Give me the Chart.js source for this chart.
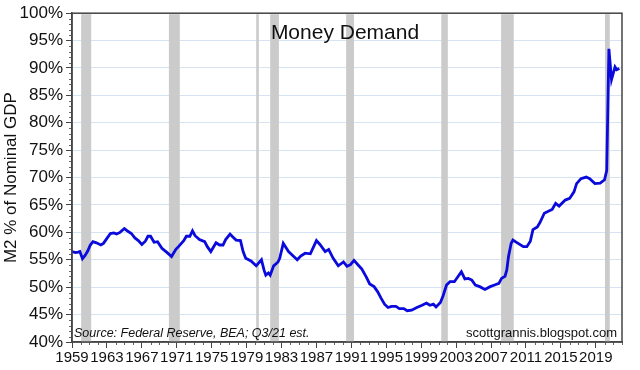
<!DOCTYPE html>
<html>
<head>
<meta charset="utf-8">
<script src="https://cdn.jsdelivr.net/npm/chart.js@4.4.0/dist/chart.umd.min.js"></script>
<style>
  html, body { margin: 0; padding: 0; background: #fff; }
  #wrap { width: 640px; height: 370px; }
</style>
</head>
<body>
<div id="wrap"><canvas id="moneyChart" width="640" height="370"></canvas></div>
<script>
// M2 as % of nominal GDP (x = year position on the axis)
const years = [
  1959.0, 1959.4, 1959.7, 1959.9, 1960.2, 1960.5, 1960.8, 1961.1, 1961.4, 1961.8,
  1962.3, 1962.6, 1963.0, 1963.4, 1963.8, 1964.1, 1964.5, 1965.0, 1965.4, 1965.8,
  1966.2, 1966.6, 1967.0, 1967.4, 1967.7, 1968.0, 1968.4, 1968.8, 1969.3, 1969.9,
  1970.4, 1970.9, 1971.2, 1971.8, 1972.1, 1972.5, 1972.8, 1973.1, 1973.6, 1974.2,
  1974.5, 1974.9, 1975.5, 1975.9, 1976.3, 1976.6, 1977.1, 1977.4, 1977.8, 1978.3,
  1978.6, 1978.9, 1979.5, 1980.1, 1980.7, 1981.0, 1981.2, 1981.5, 1981.7, 1982.1,
  1982.6, 1982.8, 1983.2, 1983.8, 1984.4, 1984.8, 1985.2, 1985.7, 1986.3, 1987.0,
  1987.4, 1988.0, 1988.4, 1988.9, 1989.5, 1990.1, 1990.5, 1990.9, 1991.3, 1991.8,
  1992.2, 1992.7, 1993.1, 1993.6, 1994.0, 1994.4, 1994.8, 1995.2, 1995.6, 1996.1,
  1996.5, 1997.0, 1997.4, 1997.9, 1998.5, 1999.1, 1999.6, 2000.0, 2000.4, 2000.7,
  2001.2, 2001.5, 2001.9, 2002.3, 2002.8, 2003.2, 2003.6, 2004.0, 2004.4, 2004.8,
  2005.2, 2005.7, 2006.3, 2006.9, 2007.4, 2007.9, 2008.2, 2008.6, 2008.8, 2009.0,
  2009.3, 2009.5, 2010.1, 2010.7, 2011.1, 2011.5, 2011.8, 2012.3, 2012.6, 2013.1,
  2013.5, 2014.0, 2014.4, 2014.8, 2015.5, 2016.0, 2016.5, 2016.8, 2017.3, 2017.9,
  2018.3, 2018.9, 2019.5, 2020.0, 2020.25, 2020.5, 2020.8, 2021.2, 2021.4, 2021.7
];
const m2Pct = [
  56.5, 56.3, 56.4, 56.5, 55.2, 55.8, 56.6, 57.7, 58.3, 58.1,
  57.7, 58.0, 58.9, 59.8, 59.9, 59.7, 60.0, 60.7, 60.2, 59.8,
  59.0, 58.5, 57.8, 58.4, 59.3, 59.3, 58.2, 58.3, 57.1, 56.3,
  55.6, 56.9, 57.4, 58.5, 59.3, 59.3, 60.3, 59.4, 58.7, 58.3,
  57.4, 56.5, 58.1, 57.7, 57.7, 58.7, 59.7, 59.2, 58.6, 58.5,
  56.5, 55.3, 54.8, 53.9, 55.0, 53.1, 52.2, 52.6, 52.2, 53.9,
  54.6, 55.3, 58.0, 56.5, 55.6, 55.0, 55.7, 56.2, 56.1, 58.5,
  57.8, 56.5, 56.9, 55.3, 53.9, 54.6, 53.8, 54.1, 54.9, 54.0,
  53.3, 51.9, 50.6, 50.1, 49.2, 48.0, 46.9, 46.3, 46.5, 46.5,
  46.1, 46.1, 45.7, 45.8, 46.3, 46.7, 47.1, 46.7, 46.9, 46.4,
  47.2, 48.4, 50.4, 51.0, 51.0, 51.9, 52.8, 51.5, 51.6, 51.3,
  50.4, 50.1, 49.6, 50.1, 50.4, 50.7, 51.6, 52.0, 53.1, 55.6,
  58.0, 58.6, 58.0, 57.4, 57.4, 58.4, 60.5, 61.0, 61.8, 63.5,
  63.8, 64.2, 65.3, 64.8, 65.9, 66.2, 67.4, 68.9, 69.8, 70.1,
  69.8, 68.9, 69.0, 69.6, 71.3, 93.5, 87.9, 90.2, 89.7, 89.9
];

// recession shading (start / end on the year axis)
const recStart = [1960.05, 1970.1, 1980.1, 1981.7, 1990.4, 2001.3, 2008.15, 2020.05];
const recEnd = [1961.2, 1971.35, 1980.4, 1982.7, 1991.3, 2002.05, 2009.6, 2020.6];

const yearTicks = [1959, 1963, 1967, 1971, 1975, 1979, 1983, 1987, 1991, 1995, 1999, 2003, 2007, 2011, 2015, 2019];
const pctTicks = [40, 45, 50, 55, 60, 65, 70, 75, 80, 85, 90, 95, 100];

const FONT = "'Liberation Sans', Arial, sans-serif";

const recessionBands = {
    id: "recessionBands",
    beforeDatasetsDraw(chart) {
        const { ctx, chartArea, scales } = chart;
        ctx.save();
        ctx.fillStyle = "#cbcbcb";
        recStart.forEach((start, i) => {
            const x0 = scales.x.getPixelForValue(start);
            const x1 = scales.x.getPixelForValue(recEnd[i]);
            ctx.fillRect(x0, chartArea.top + 1, x1 - x0, chartArea.bottom - chartArea.top - 1);
        });
        ctx.restore();
    }
};

const frameAndText = {
    id: "frameAndText",
    afterDraw(chart) {
        const { ctx, chartArea, scales } = chart;
        ctx.save();
        // minor ticks
        ctx.strokeStyle = "#666";
        ctx.lineWidth = 1;
        ctx.beginPath();
        for (let v = 40; v <= 100; v++) {
            if (v % 5 === 0) continue;
            const y = Math.round(scales.y.getPixelForValue(v)) + 0.5;
            ctx.moveTo(chartArea.left - 3, y);
            ctx.lineTo(chartArea.left, y);
        }
        for (let yr = 1959; yr <= 2022; yr++) {
            if ((yr - 1959) % 4 === 0) continue;
            const x = Math.round(scales.x.getPixelForValue(yr)) + 0.5;
            ctx.moveTo(x, chartArea.bottom);
            ctx.lineTo(x, chartArea.bottom + 3);
        }
        ctx.stroke();

        // frame
        ctx.strokeStyle = "#444";
        ctx.lineWidth = 1.5;
        ctx.strokeRect(chartArea.left, chartArea.top, chartArea.right - chartArea.left, chartArea.bottom - chartArea.top);

        // title and notes
        ctx.fillStyle = "#111";
        ctx.textAlign = "center";
        ctx.textBaseline = "alphabetic";
        ctx.font = "21px " + FONT;
        ctx.fillText("Money Demand", 345, 39);

        ctx.textAlign = "left";
        ctx.font = "italic 12.5px " + FONT;
        ctx.fillText("Source: Federal Reserve, BEA; Q3/21 est.", 74, 337);

        ctx.textAlign = "right";
        ctx.font = "13px " + FONT;
        ctx.fillText("scottgrannis.blogspot.com", 617, 337);
        ctx.restore();
    }
};

new Chart(document.getElementById("moneyChart"), {
    type: "line",
    data: {
        datasets: [{
            data: years.map((yr, i) => ({ x: yr, y: m2Pct[i] })),
            borderColor: "#0a0adc",
            borderWidth: 2.8,
            pointRadius: 0,
            tension: 0,
            fill: false
        }]
    },
    options: {
        responsive: false,
        animation: false,
        events: [],
        layout: { padding: { top: 13, right: 18, bottom: 0, left: 0 } },
        plugins: {
            legend: { display: false },
            tooltip: { enabled: false }
        },
        scales: {
            x: {
                type: "linear",
                min: 1959,
                max: 2022,
                afterBuildTicks: (scale) => { scale.ticks = yearTicks.map((v) => ({ value: v })); },
                afterFit: (scale) => { scale.height = 28; },
                grid: { drawOnChartArea: false, tickLength: 6, color: "#444", tickWidth: 1 },
                border: { color: "#444", width: 1.5 },
                ticks: {
                    autoSkip: false,
                    maxRotation: 0,
                    padding: 1,
                    color: "#111",
                    font: { family: FONT, size: 15 },
                    callback: (v) => String(v)
                }
            },
            y: {
                min: 40,
                max: 100,
                afterBuildTicks: (scale) => { scale.ticks = pctTicks.map((v) => ({ value: v })); },
                afterFit: (scale) => { scale.width = 72; },
                grid: {
                    color: (c) => (c.tick && (c.tick.value === 40 || c.tick.value === 100)) ? "rgba(0,0,0,0)" : "#d6e3f3",
                    tickColor: "#444",
                    tickLength: 6,
                    lineWidth: 1
                },
                border: { color: "#444", width: 1.5 },
                ticks: {
                    padding: 3,
                    color: "#111",
                    font: { family: FONT, size: 17 },
                    callback: (v) => v + "%"
                },
                title: {
                    display: true,
                    text: "M2 % of Nominal GDP",
                    color: "#111",
                    padding: { top: 1, bottom: 0 },
                    font: { family: FONT, size: 17 }
                }
            }
        }
    },
    plugins: [recessionBands, frameAndText]
});
</script>
</body>
</html>
